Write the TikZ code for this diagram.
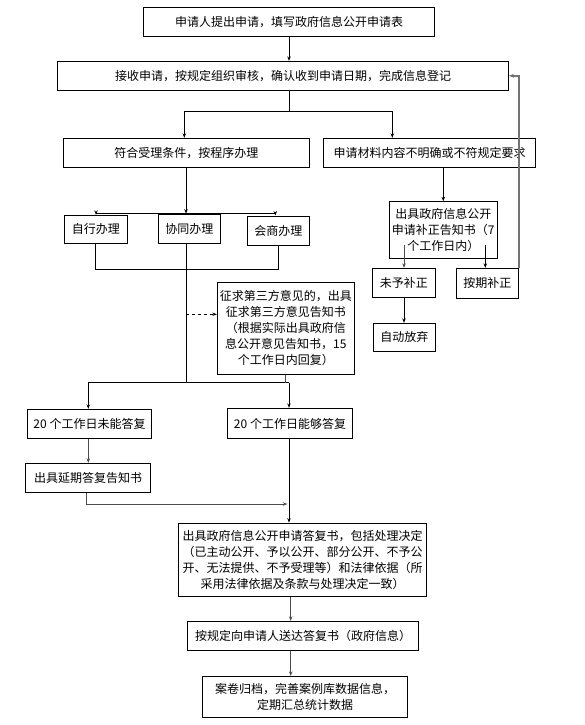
\documentclass[tikz,border=0pt]{standalone}
\usepackage{fontspec}
\setmainfont{Noto Sans CJK SC}
\usetikzlibrary{arrows.meta}
\begin{document}
\begin{tikzpicture}[x=1pt,y=-1pt,
  box/.style={draw, line width=0.9pt, inner sep=1pt, align=center,
    font=\fontsize{12pt}{16pt}\selectfont},
  arr/.style={line width=0.9pt, -{Stealth[length=4.5pt,width=3.5pt]}},
  ln/.style={line width=0.9pt},
  gr/.style={draw=black!70},
  loopln/.style={line width=1.6pt, draw=black!55, -{Stealth[length=5pt,width=4pt]}}]
\useasboundingbox (0,0) rectangle (584,725);
\fill[white] (0,0) rectangle (584,725);
% boxes
\node[box, minimum width=291pt, minimum height=29pt] (b1) at (289,21.8) {申请人提出申请，填写政府信息公开申请表};
\node[box, minimum width=451pt, minimum height=29pt] (b2) at (283,75.8) {接收申请，按规定组织审核，确认收到申请日期，完成信息登记};
\node[box, minimum width=246pt, minimum height=29pt] (b3) at (186.3,152.8) {符合受理条件，按程序办理};
\node[box, minimum width=212pt, minimum height=29pt] (b4) at (429.5,152.8) {申请材料内容不明确或不符规定要求};
\node[box, minimum width=63pt, minimum height=28pt] (zx) at (95.8,229.3) {自行办理};
\node[box, minimum width=62pt, minimum height=29pt] (xt) at (189.3,228.5) {协同办理};
\node[box, minimum width=62pt, minimum height=29.7pt] (hs) at (278.3,230.8) {会商办理};
\node[box, minimum width=137pt, minimum height=92pt] (zq) at (285.8,328.3) {征求第三方意见的，出具\\征求第三方意见告知书\\（根据实际出具政府信\\息公开意见告知书，15\\个工作日内回复）};
\node[box, minimum width=108pt, minimum height=56.6pt] (bz) at (443.3,230) {出具政府信息公开\\申请补正告知书（7\\个工作日内）};
\node[box, minimum width=63pt, minimum height=29pt] (wy) at (403.8,282.8) {未予补正};
\node[box, minimum width=62pt, minimum height=30pt] (aq) at (487.3,283.3) {按期补正};
\node[box, minimum width=62pt, minimum height=28pt] (zd) at (404.3,337.3) {自动放弃};
\node[box, minimum width=124.4pt, minimum height=29.4pt] (wn) at (89.5,424) {20 个工作日未能答复};
\node[box, minimum width=125.4pt, minimum height=30.4pt] (ng) at (290,423.5) {20 个工作日能够答复};
\node[box, minimum width=125pt, minimum height=29pt] (yq) at (88.2,477.8) {出具延期答复告知书};
\node[box, minimum width=248.4pt, minimum height=73.3pt] (df) at (302.5,559.7) {出具政府信息公开申请答复书，包括处理决定\\（已主动公开、予以公开、部分公开、不予公\\开、无法提供、不予受理等）和法律依据（所\\采用法律依据及条款与处理决定一致）};
\node[box, minimum width=231.4pt, minimum height=29pt] (sd) at (303,635.8) {按规定向申请人送达答复书（政府信息）};
\node[box, minimum width=205.4pt, minimum height=41pt] (ad) at (305,696.8) {案卷归档，完善案例库数据信息，\\定期汇总统计数据};
% coordinates
\coordinate (s0) at (289,111);
\coordinate (s1) at (184.3,111);
\coordinate (s2) at (392.3,111);
\coordinate (t0) at (186,213.3);
\coordinate (t1) at (96,213.3);
\coordinate (t2) at (275.3,213.3);
\coordinate (u0) at (186,269.3);
\coordinate (d0) at (186,314.3);
\coordinate (m0) at (186,382.7);
\coordinate (m1) at (88.3,382.7);
\coordinate (m2) at (289,382.7);
\coordinate (y0) at (86.3,504);
\coordinate (y1) at (287.3,504);
\coordinate (c0) at (290.7,0);
\coordinate (p1) at (404,245);
\coordinate (p2) at (485.3,245);
% connectors
\draw[arr] (b1.south -| s0) -- (b2.north -| s0);
\draw[ln] (b2.south -| s0) -- (s0);
\draw[arr] (s0) -- (s1) -- (s1 |- b3.north);
\draw[arr] (s0) -- (s2) -- (s2 |- b4.north);
\draw[arr] (t0 |- b3.south) -- (t0 |- xt.north);
\draw[arr] (t0) -- (t1) -- (t1 |- zx.north);
\draw[arr] (t0) -- (t2) -- (t2 |- hs.north);
\draw[ln] (zx.south) -- (zx.south |- u0) -| (hs.south);
\draw[ln] (t0 |- xt.south) -- (m0);
\draw[arr, dashed] (d0) -- (d0 -| zq.west);
\draw[ln] (m1) -- (m2);
\draw[ln, gr] (zq.south) -- (zq.south |- m2);
\draw[arr] (m1) -- (m1 |- wn.north);
\draw[arr] (m2) -- (m2 |- ng.north);
\draw[arr, gr] (m1 |- wn.south) -- (m1 |- yq.north);
\draw[arr, gr] (y0 |- yq.south) -- (y0) -- (y1);
\draw[arr] (m2 |- ng.south) -- (m2 |- df.north);
\draw[arr, gr] (c0 |- df.south) -- (c0 |- sd.north);
\draw[arr, gr] (c0 |- sd.south) -- (c0 |- ad.north);
\draw[arr] (bz.north |- b4.south) -- (bz.north);
\draw[arr, gr] (p1) -- (p1 |- wy.north);
\draw[arr] (p2) -- (p2 |- aq.north);
\draw[arr] (wy.south -| p1) -- (zd.north -| p1);
\draw[loopln] (aq.north east) -- (aq.north east |- b2.east) -- (b2.east);
\end{tikzpicture}
\end{document}
